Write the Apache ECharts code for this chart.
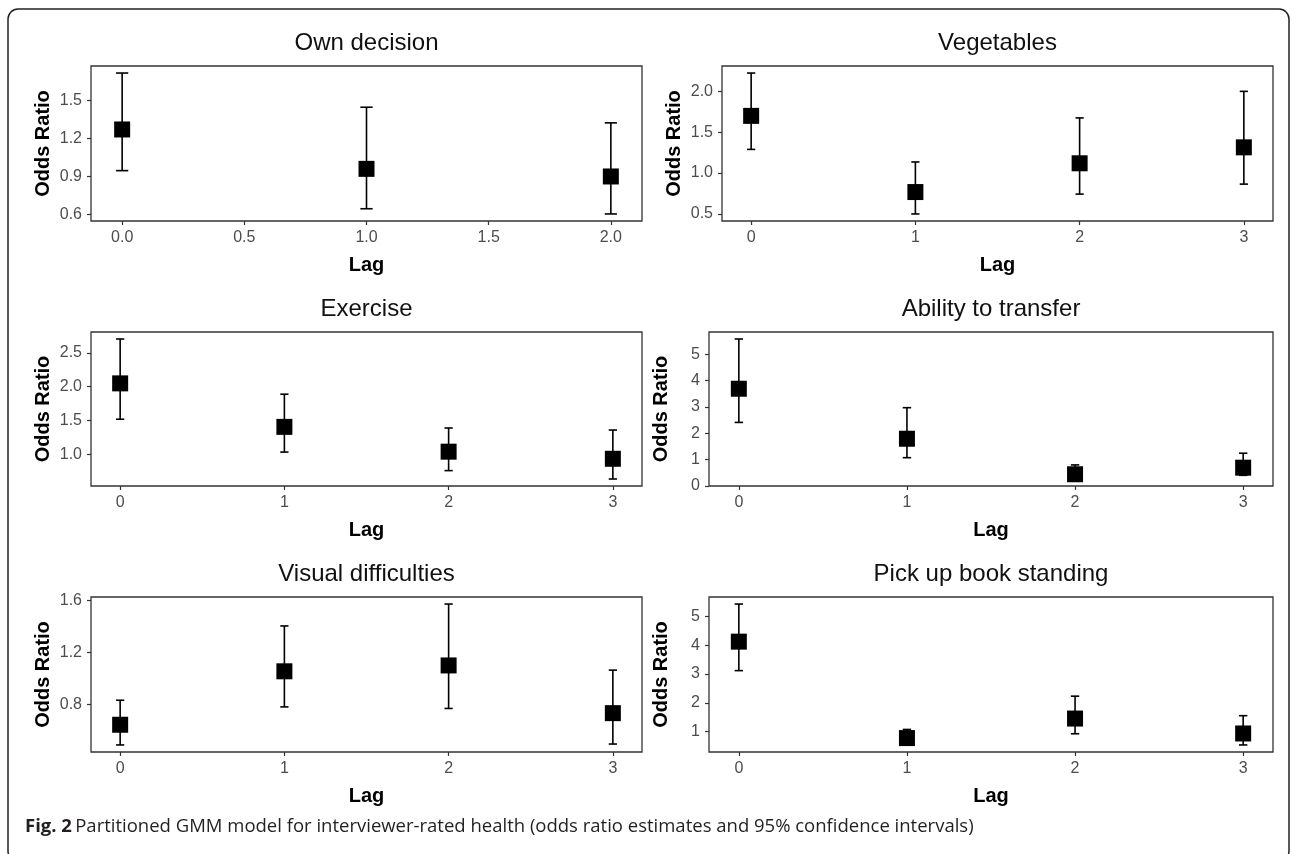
<!DOCTYPE html>
<html>
<head>
<meta charset="utf-8">
<script src="https://cdn.jsdelivr.net/npm/echarts@6/dist/echarts.min.js"></script>
<style>
html,body{margin:0;padding:0;background:#fff;}
#chart{width:1292px;height:854px;}
</style>
</head>
<body>
<div id="chart"></div>
<script>
// ---- Data ----
const panelTitles = ["Own decision", "Vegetables", "Exercise", "Ability to transfer", "Visual difficulties", "Pick up book standing"];

const lagsOwnDecision = [0, 1, 2];
const estOwnDecision = [1.27, 0.96, 0.90];
const loOwnDecision  = [0.946, 0.646, 0.605];
const hiOwnDecision  = [1.714, 1.445, 1.322];

const lagsVegetables = [0, 1, 2, 3];
const estVegetables = [1.70, 0.768, 1.12, 1.315];
const loVegetables  = [1.29, 0.50, 0.743, 0.865];
const hiVegetables  = [2.224, 1.136, 1.675, 2.00];

const lagsExercise = [0, 1, 2, 3];
const estExercise = [2.05, 1.407, 1.04, 0.935];
const loExercise  = [1.52, 1.034, 0.76, 0.636];
const hiExercise  = [2.706, 1.89, 1.39, 1.36];

const lagsAbility = [0, 1, 2, 3];
const estAbility = [3.69, 1.79, 0.44, 0.69];
const loAbility  = [2.41, 1.07, 0.26, 0.40];
const hiAbility  = [5.58, 2.97, 0.795, 1.24];

const lagsVisual = [0, 1, 2, 3];
const estVisual = [0.645, 1.055, 1.10, 0.734];
const loVisual  = [0.49, 0.782, 0.77, 0.497];
const hiVisual  = [0.833, 1.403, 1.571, 1.064];

const lagsPickup = [0, 1, 2, 3];
const estPickup = [4.13, 0.77, 1.45, 0.93];
const loPickup  = [3.12, 0.58, 0.92, 0.53];
const hiPickup  = [5.44, 1.07, 2.23, 1.55];

// tick labels
const xTicksOwnDecision = [0, 0.5, 1, 1.5, 2];
const xTicksOther = [0, 1, 2, 3];
const yTicksOwnDecision = [0.6, 0.9, 1.2, 1.5];
const yTicksVegetables = [0.5, 1.0, 1.5, 2.0];
const yTicksExercise = [1.0, 1.5, 2.0, 2.5];
const yTicksAbility = [0, 1, 2, 3, 4, 5];
const yTicksVisual = [0.8, 1.2, 1.6];
const yTicksPickup = [1, 2, 3, 4, 5];

const caption = "Partitioned GMM model for interviewer-rated health (odds ratio estimates and 95% confidence intervals)";

// ---- Assemble ----
const panels = [
  {lags: lagsOwnDecision, est: estOwnDecision, lo: loOwnDecision, hi: hiOwnDecision, xt: xTicksOwnDecision, yt: yTicksOwnDecision, xDec: 1, yDec: 1},
  {lags: lagsVegetables, est: estVegetables, lo: loVegetables, hi: hiVegetables, xt: xTicksOther, yt: yTicksVegetables, xDec: 0, yDec: 1},
  {lags: lagsExercise, est: estExercise, lo: loExercise, hi: hiExercise, xt: xTicksOther, yt: yTicksExercise, xDec: 0, yDec: 1},
  {lags: lagsAbility, est: estAbility, lo: loAbility, hi: hiAbility, xt: xTicksOther, yt: yTicksAbility, xDec: 0, yDec: 0},
  {lags: lagsVisual, est: estVisual, lo: loVisual, hi: hiVisual, xt: xTicksOther, yt: yTicksVisual, xDec: 0, yDec: 1},
  {lags: lagsPickup, est: estPickup, lo: loPickup, hi: hiPickup, xt: xTicksOther, yt: yTicksPickup, xDec: 0, yDec: 0}
];

// layout (pixels)
const gridBoxes = [
  {left: 91,  top: 66,  width: 551, height: 155},
  {left: 722, top: 66,  width: 551, height: 155},
  {left: 91,  top: 332, width: 551, height: 154},
  {left: 709, top: 332, width: 564, height: 154},
  {left: 91,  top: 597, width: 551, height: 155},
  {left: 709, top: 597, width: 564, height: 155}
];
const ERR_W = 0.05; // errorbar width in data units
const EXPAND = 0.05;

const FONT = "'Liberation Sans', Arial, sans-serif";

function range(vals, pad) {
  const mn = Math.min.apply(null, vals), mx = Math.max.apply(null, vals);
  const L = mx - mn;
  return [mn - L * pad, mx + L * pad];
}

const grid = [], xAxis = [], yAxis = [], series = [], graphic = [];

panels.forEach((p, i) => {
  const g = gridBoxes[i];
  grid.push({left: g.left, top: g.top, width: g.width, height: g.height, show: true,
    borderColor: '#333', borderWidth: 1.3, backgroundColor: 'transparent'});
  const xr = range([Math.min.apply(null, p.lags) - ERR_W / 2, Math.max.apply(null, p.lags) + ERR_W / 2], EXPAND);
  const yr = range(p.lo.concat(p.hi), EXPAND);
  xAxis.push({
    type: 'value', gridIndex: i, min: xr[0], max: xr[1], position: 'bottom',
    name: 'Lag', nameLocation: 'middle', nameGap: 34,
    nameTextStyle: {fontFamily: FONT, fontSize: 20, fontWeight: 'bold', color: '#000'},
    axisLine: {show: false, onZero: false},
    splitLine: {show: false},
    axisTick: {show: true, length: 4, lineStyle: {color: '#333', width: 1.2}, customValues: p.xt},
    axisLabel: {show: true, margin: 9, color: '#4d4d4d', fontFamily: FONT, fontSize: 16,
      customValues: p.xt, formatter: v => Number(v).toFixed(p.xDec)}
  });
  yAxis.push({
    type: 'value', gridIndex: i, min: yr[0], max: yr[1], position: 'left',
    name: 'Odds Ratio', nameLocation: 'middle', nameGap: 38, nameRotate: 90,
    nameTextStyle: {fontFamily: FONT, fontSize: 20, fontWeight: 'bold', color: '#000'},
    axisLine: {show: false, onZero: false},
    splitLine: {show: false},
    axisTick: {show: true, length: 4, lineStyle: {color: '#333', width: 1.2}, customValues: p.yt},
    axisLabel: {show: true, margin: 9, color: '#4d4d4d', fontFamily: FONT, fontSize: 16,
      customValues: p.yt, formatter: v => Number(v).toFixed(p.yDec)}
  });
  const errData = p.lags.map((l, k) => [l, p.lo[k], p.hi[k]]);
  series.push({
    type: 'custom', xAxisIndex: i, yAxisIndex: i, data: errData, z: 2,
    renderItem: function (params, api) {
      const x = api.value(0), lo = api.value(1), hi = api.value(2);
      const a = api.coord([x, lo]), b = api.coord([x, hi]);
      const hw = api.size([ERR_W, 0])[0] / 2;
      const st = {stroke: '#000', lineWidth: 1.6};
      return {type: 'group', children: [
        {type: 'line', shape: {x1: a[0], y1: a[1], x2: b[0], y2: b[1]}, style: st},
        {type: 'line', shape: {x1: a[0] - hw, y1: a[1], x2: a[0] + hw, y2: a[1]}, style: st},
        {type: 'line', shape: {x1: b[0] - hw, y1: b[1], x2: b[0] + hw, y2: b[1]}, style: st}
      ]};
    }
  });
  series.push({
    type: 'scatter', xAxisIndex: i, yAxisIndex: i, z: 3,
    data: p.lags.map((l, k) => [l, p.est[k]]),
    symbol: 'rect', symbolSize: 16, itemStyle: {color: '#000', opacity: 1},
    silent: true
  });
  graphic.push({
    type: 'text', x: g.left + g.width / 2, y: g.top - 23,
    style: {text: panelTitles[i], fontFamily: FONT, fontSize: 24, fill: '#111', align: 'center', verticalAlign: 'middle'}
  });
});

// outer frame
graphic.push({type: 'rect', shape: {x: 8, y: 9, width: 1281, height: 852, r: 10},
  style: {fill: 'none', stroke: '#222', lineWidth: 1.5}, z: -1});
// caption
graphic.push({
  type: 'text', x: 25, y: 827,
  style: {
    text: '{b|Fig. 2} {n|' + caption + '}',
    verticalAlign: 'middle',
    rich: {
      b: {fontFamily: "'Open Sans', sans-serif", fontSize: 18.5, fontWeight: 'bold', fill: '#231f20'},
      n: {fontFamily: "'Open Sans', sans-serif", fontSize: 18.5, fill: '#231f20'}
    }
  }
});

const chart = echarts.init(document.getElementById('chart'), null, {renderer: 'canvas'});
chart.setOption({
  animation: false,
  backgroundColor: '#fff',
  grid, xAxis, yAxis, series, graphic
});
</script>
</body>
</html>
